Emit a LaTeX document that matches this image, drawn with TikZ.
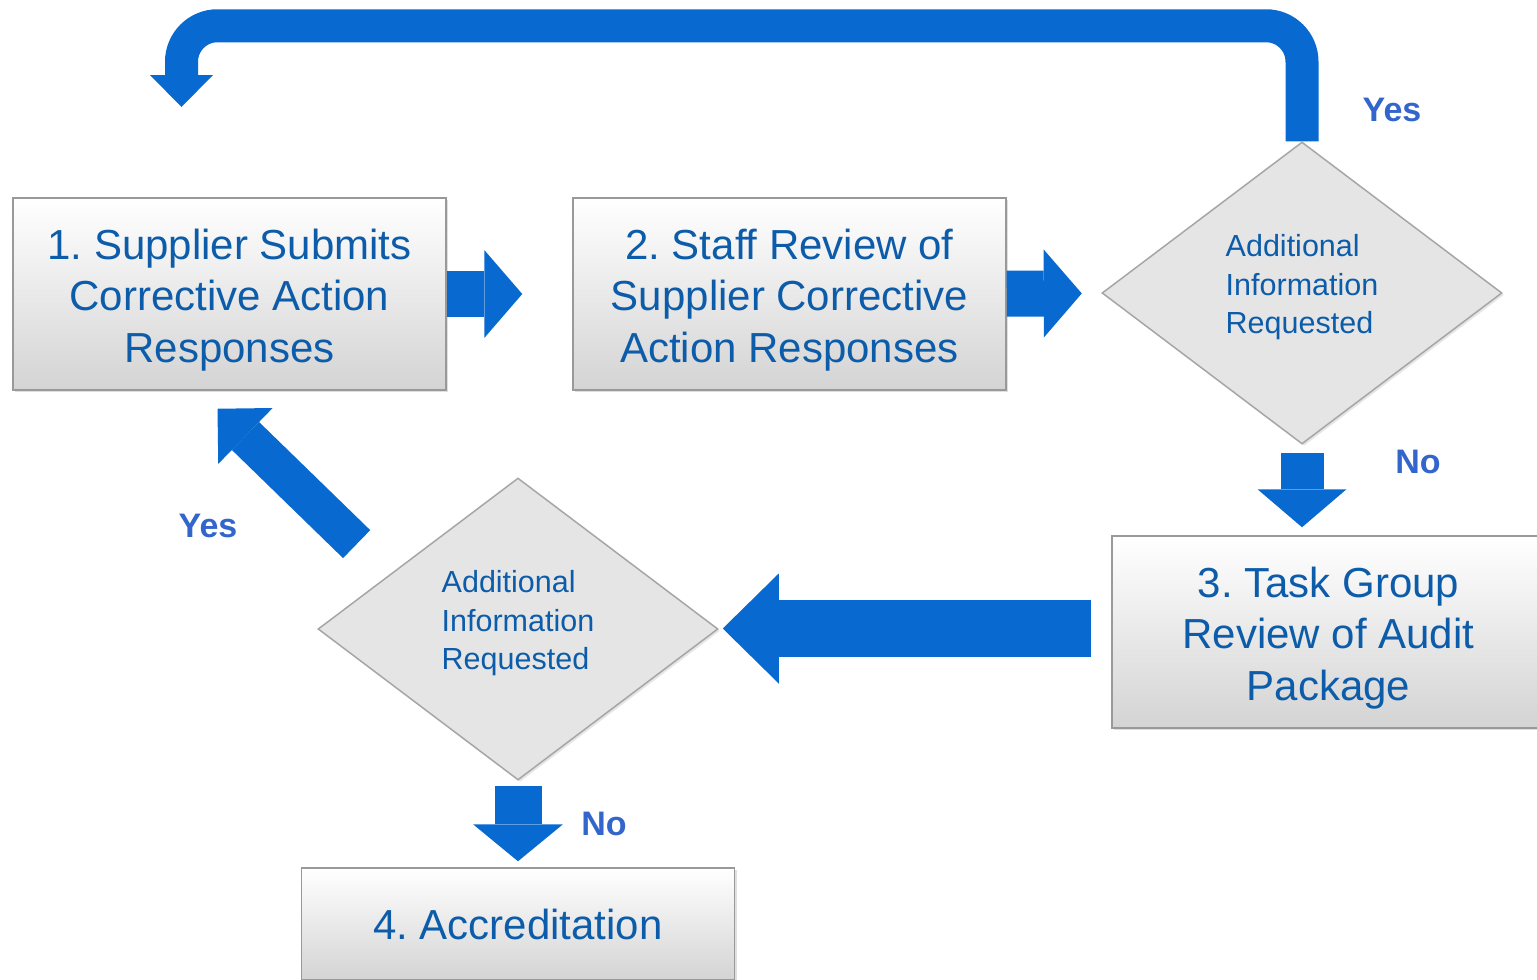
\documentclass[tikz,border=0pt]{standalone}
\usepackage{fontspec}
\setmainfont{Liberation Sans}
\usepackage{tikz}
\usetikzlibrary{shapes.geometric, arrows.meta, shadows}
\frenchspacing

\definecolor{flowblue}{RGB}{8,106,208}
\definecolor{inkblue}{RGB}{12,92,170}
\definecolor{answerblue}{RGB}{51,102,204}

\tikzset{
    procbox/.style={rectangle, draw=black!40, line width=1.5pt, top color=white, bottom color=black!17,
        drop shadow={opacity=0.25, shadow xshift=2pt, shadow yshift=-2pt},
        minimum width=433pt, minimum height=192pt, inner sep=0pt, align=center, text=inkblue,
        text height=145pt, font=\fontsize{42}{51.5}\selectfont},
    decision/.style={diamond, draw=black!35, line width=1.5pt, fill=black!10, aspect=1.32,
        drop shadow={opacity=0.2, shadow xshift=2pt, shadow yshift=-2pt},
        minimum width=400pt, minimum height=302pt, inner sep=0pt, align=left, text=inkblue,
        text depth=18pt, font=\fontsize{30.5}{38.5}\selectfont},
    answer/.style={text=answerblue, font=\fontsize{34}{40}\selectfont\bfseries},
    flowarrow/.style={draw=flowblue, line width=#1},
}

\begin{document}
\begin{tikzpicture}[x=1pt, y=-1pt]
        \useasboundingbox (0,0) rectangle (1537,980);

        \node[procbox] (b1) at (229.5,294) {1. Supplier Submits\\Corrective Action\\Responses};
        \node[procbox] (b2) at (789.5,294) {2. Staff Review of\\Supplier Corrective\\Action Responses};
        \node[procbox] (b3) at (1328.5,632) {3. Task Group\\Review of Audit\\Package};
        \node[procbox, minimum height=112pt, text height=32pt] (b4) at (518,924) {4. Accreditation};
        \node[decision] (d1) at (1302,293) {Additional\\Information\\Requested};
        \node[decision] (d2) at (518,629) {Additional\\Information\\Requested};
        \coordinate (backtip) at (181.5,107);

        \node[answer] (yes1) at (1392,110) {Yes};
        \node[answer] (no1) at (1418,462) {No};
        \node[answer] (yes2) at (208,526) {Yes};
        \node[answer] (no2) at (604,824) {No};

        \draw[flowarrow=46pt, -{Triangle[width=88pt, length=38pt, line width=0pt]}, shorten >=50pt] (b1) -- (b2);
        \draw[flowarrow=46pt, -{Triangle[width=88pt, length=38pt, line width=0pt]}, shorten >=20pt] (b2) -- (d1);
        \draw[flowarrow=43pt, -{Triangle[width=89pt, length=38pt, line width=0pt]}, shorten <=8pt, shorten >=8pt]
            (d1.south) -- (d1.south |- b3.north);
        \draw[flowarrow=57pt, -{Triangle[width=110pt, length=56pt, line width=0pt]}, shorten <=20pt, shorten >=4pt]
            ([yshift=3.5pt]b3.west) -- ([yshift=3.5pt]b3.west -| d2.east);
        \draw[flowarrow=47pt, -{Triangle[width=90pt, length=37pt, line width=0pt]}, shorten <=5pt, shorten >=6pt]
            (d2.south) -- (b4.north);
        \draw[flowarrow=39pt, -{Triangle[width=78pt, length=39pt, line width=0pt]}]
            ([shift={(-61,-9)}]d2.north west) -- ([shift={(-12,18)}]b1.south);
        \draw[flowarrow=33pt, rounded corners=36pt, -{Triangle[width=63pt, length=32pt, line width=0pt]}]
            (d1.north) -- ++(0,-115.5) -| (backtip);
\end{tikzpicture}
\end{document}
